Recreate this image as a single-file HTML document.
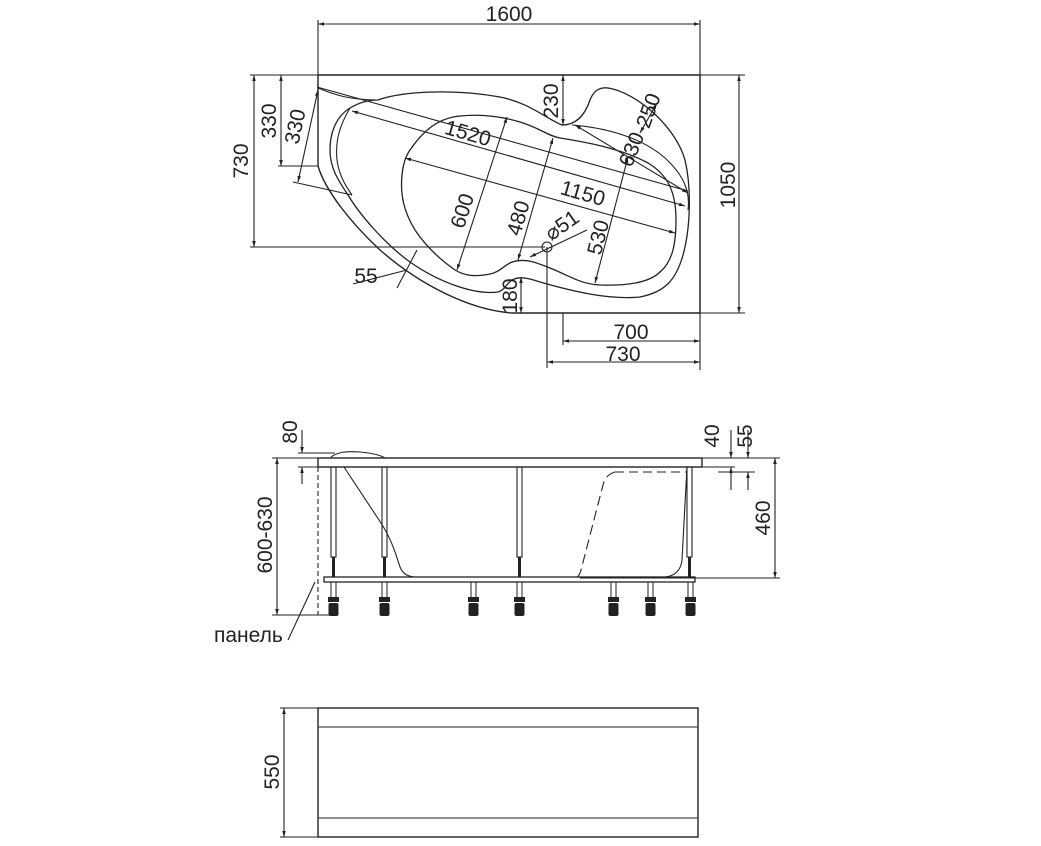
<!DOCTYPE html>
<html><head><meta charset="utf-8"><style>
html,body{margin:0;padding:0;background:#fff}
svg{display:block}
text{font-family:"Liberation Sans",sans-serif;font-size:21px;fill:#222}
</style></head><body>
<svg width="1041" height="846" viewBox="0 0 1041 846" xmlns="http://www.w3.org/2000/svg">
<defs>
<marker id="a" viewBox="0 0 10 10" refX="10" refY="5" markerWidth="9" markerHeight="6" orient="auto-start-reverse" markerUnits="userSpaceOnUse"><path d="M0,2 L10,5 L0,8 Z" fill="#222"/></marker>
</defs>
<g stroke="#222" stroke-width="1.1" fill="none">
<path d="M318,75 L700,75 L700,313 L512,313 C470,310 420,285 380,250 C350,222 325,190 318,166 Z" stroke-width="1.4"/>
<line x1="318" y1="20" x2="318" y2="75"/>
<line x1="700" y1="20" x2="700" y2="370"/>
<line x1="318" y1="24" x2="700" y2="24" marker-start="url(#a)" marker-end="url(#a)"/>
<line x1="250" y1="75" x2="318" y2="75"/>
<line x1="700" y1="75" x2="745" y2="75"/>
<line x1="700" y1="313" x2="745" y2="313"/>
<line x1="250" y1="247" x2="545" y2="247"/>
<line x1="254" y1="75" x2="254" y2="247" marker-start="url(#a)" marker-end="url(#a)"/>
<line x1="281" y1="75" x2="281" y2="166" marker-start="url(#a)" marker-end="url(#a)"/>
<line x1="278" y1="166" x2="318" y2="166"/>
<line x1="739" y1="75" x2="739" y2="313" marker-start="url(#a)" marker-end="url(#a)"/>
<line x1="563" y1="313" x2="563" y2="345"/>
<line x1="547" y1="247" x2="547" y2="368"/>
<line x1="563" y1="341" x2="700" y2="341" marker-start="url(#a)" marker-end="url(#a)"/>
<line x1="547" y1="362" x2="700" y2="362" marker-start="url(#a)" marker-end="url(#a)"/>
<path d="M378,100 C400,92 450,88 500,97 C530,103 545,118 562,125 C578,125 586,112 590,100 C594,90 600,87 608,88 C635,92 675,125 685,160 C692,190 690,230 683,255 C676,280 665,292 640,297 C610,300 575,292 540,282 C528,278 520,276 512,280 C506,284 505,290 498,292 C475,295 440,283 410,262 C385,244 360,215 348,195 C338,180 330,168 330,150 C330,130 338,115 350,108 C360,102 370,100 378,100 Z" stroke-width="1.3"/>
<path d="M318,88 C335,95 350,100 378,100"/>
<path d="M350,108 C340,125 335,140 337,160 C339,175 345,185 352,195"/>
<path d="M572,125 C610,128 650,140 672,165 C686,180 690,195 688,210"/>
<path d="M410,150 C425,128 440,118 460,116 C480,114 500,116 520,122 C540,128 548,136 560,138 C585,142 620,148 648,163 C668,175 676,192 676,220 C676,245 672,262 660,272 C650,282 630,286 600,285 C580,284 570,276 550,268 C535,262 525,258 512,262 C503,266 500,272 490,274 C475,277 465,276 455,270 C438,258 425,245 415,230 C404,212 400,195 402,175 C403,165 405,157 410,150 Z" stroke-width="1.3"/>
<line x1="317" y1="87" x2="688" y2="191"/>
<line x1="352" y1="111" x2="685" y2="206" marker-start="url(#a)" marker-end="url(#a)"/>
<line x1="405" y1="158" x2="675" y2="233" marker-start="url(#a)" marker-end="url(#a)"/>
<line x1="507" y1="117" x2="457" y2="270" marker-start="url(#a)" marker-end="url(#a)"/>
<line x1="553" y1="138" x2="518" y2="260" marker-start="url(#a)" marker-end="url(#a)"/>
<line x1="628" y1="157" x2="595" y2="283" marker-start="url(#a)" marker-end="url(#a)"/>
<line x1="575" y1="125" x2="688" y2="193" marker-start="url(#a)" marker-end="url(#a)"/>
<line x1="657" y1="103" x2="640" y2="133" marker-start="url(#a)" marker-end="url(#a)"/>
<line x1="563" y1="75" x2="563" y2="125" marker-start="url(#a)" marker-end="url(#a)"/>
<line x1="521" y1="277" x2="521" y2="313" marker-start="url(#a)" marker-end="url(#a)"/>
<line x1="318" y1="90" x2="298" y2="182" marker-start="url(#a)" marker-end="url(#a)"/>
<line x1="293" y1="182" x2="352" y2="195"/>
<line x1="417" y1="250" x2="397" y2="288"/>
<line x1="353" y1="284" x2="407" y2="270"/>
<circle cx="547" cy="247" r="5"/>
<line x1="530" y1="257" x2="587" y2="230" marker-start="url(#a)"/>

<rect x="318" y="458" width="384" height="9" stroke-width="1.4"/>
<path d="M331,457 C338,452 346,451 360,452 C372,453 380,455 385,458"/>
<line x1="298" y1="453" x2="335" y2="453"/>
<line x1="298" y1="467" x2="318" y2="467"/>
<line x1="302" y1="430" x2="302" y2="453" marker-end="url(#a)"/>
<line x1="302" y1="484" x2="302" y2="467" marker-end="url(#a)"/>
<line x1="272" y1="458" x2="318" y2="458"/>
<line x1="272" y1="615" x2="330" y2="615"/>
<line x1="277" y1="458" x2="277" y2="615" marker-start="url(#a)" marker-end="url(#a)"/>
<line x1="318" y1="467" x2="318" y2="615" stroke-dasharray="5,3"/>
<line x1="702" y1="458" x2="780" y2="458"/>
<line x1="702" y1="467" x2="735" y2="467"/>
<line x1="718" y1="472" x2="755" y2="472"/>
<line x1="731" y1="430" x2="731" y2="458" marker-end="url(#a)"/>
<line x1="731" y1="490" x2="731" y2="467" marker-end="url(#a)"/>
<line x1="748" y1="430" x2="748" y2="458" marker-end="url(#a)"/>
<line x1="748" y1="490" x2="748" y2="472" marker-end="url(#a)"/>
<line x1="580" y1="578" x2="780" y2="578"/>
<line x1="775" y1="458" x2="775" y2="578" marker-start="url(#a)" marker-end="url(#a)"/>
<path d="M344,467 L381,523 C392,540 396,555 400,567 C403,574 407,576 414,577"/>
<path d="M615,472 L687,472" stroke-dasharray="9,5"/>
<path d="M615,472 C608,474 605,478 603,485 L581,570 C580,574 579,576 577,577" stroke-dasharray="10,5"/>
<path d="M687,467 L682,560 C681,570 675,576 665,577"/>
<rect x="331" y="467" width="5" height="90"/><rect x="382" y="467" width="5" height="90"/>
<rect x="517" y="467" width="5" height="90"/><rect x="687" y="467" width="5" height="90"/>
<line x1="333.5" y1="557" x2="333.5" y2="577" stroke-width="3"/><line x1="384.5" y1="557" x2="384.5" y2="577" stroke-width="3"/>
<line x1="519.5" y1="557" x2="519.5" y2="577" stroke-width="3"/><line x1="689.5" y1="557" x2="689.5" y2="577" stroke-width="3"/>
<rect x="324" y="577" width="371" height="5" stroke-width="1.3"/>
</g>
<g fill="#222">
<g id="f"><rect x="331" y="582" width="5" height="18" fill="none" stroke="#222"/><rect x="328" y="597" width="11" height="5"/><rect x="328.5" y="603" width="10" height="13" rx="2"/></g>
<use href="#f" x="51"/><use href="#f" x="140"/><use href="#f" x="186"/><use href="#f" x="280"/><use href="#f" x="317"/><use href="#f" x="357"/>
</g>
<g stroke="#222" fill="none" stroke-width="1.1">
<line x1="288" y1="640" x2="315" y2="582"/>
<rect x="318" y="708" width="380" height="129" stroke-width="1.4"/>
<line x1="318" y1="727" x2="698" y2="727"/>
<line x1="318" y1="818" x2="698" y2="818"/>
<line x1="280" y1="708" x2="318" y2="708"/>
<line x1="280" y1="837" x2="318" y2="837"/>
<line x1="284" y1="708" x2="284" y2="837" marker-start="url(#a)" marker-end="url(#a)"/>
</g>
<text x="509" y="21" text-anchor="middle">1600</text>
<text transform="translate(248,161) rotate(-90)" text-anchor="middle">730</text>
<text transform="translate(276,121) rotate(-90)" text-anchor="middle">330</text>
<text transform="translate(302,128) rotate(-78)" text-anchor="middle">330</text>
<text transform="translate(735,185) rotate(-90)" text-anchor="middle">1050</text>
<text transform="translate(558,101) rotate(-90)" text-anchor="middle">230</text>
<text transform="translate(517,296) rotate(-90)" text-anchor="middle">180</text>
<text transform="translate(466,140) rotate(16)" text-anchor="middle">1520</text>
<text transform="translate(581,200) rotate(16)" text-anchor="middle">1150</text>
<text transform="translate(469,213) rotate(-72)" text-anchor="middle">600</text>
<text transform="translate(525,220) rotate(-74)" text-anchor="middle">480</text>
<text transform="translate(605,239) rotate(-76)" text-anchor="middle">530</text>
<text transform="translate(638,152) rotate(-68)" text-anchor="middle">630</text>
<text transform="translate(655,113) rotate(-70)" text-anchor="middle">250</text>
<text transform="translate(566,231) rotate(-35)" text-anchor="middle">⌀51</text>
<text x="366" y="283" text-anchor="middle">55</text>
<text x="631" y="339" text-anchor="middle">700</text>
<text x="623" y="361" text-anchor="middle">730</text>
<text transform="translate(297,432) rotate(-90)" text-anchor="middle">80</text>
<text transform="translate(719,436) rotate(-90)" text-anchor="middle">40</text>
<text transform="translate(752,436) rotate(-90)" text-anchor="middle">55</text>
<text transform="translate(770,518) rotate(-90)" text-anchor="middle">460</text>
<text transform="translate(272,535) rotate(-90)" text-anchor="middle">600-630</text>
<text x="214" y="642">панель</text>
<text transform="translate(279,772) rotate(-90)" text-anchor="middle">550</text>
</svg>
</body></html>
